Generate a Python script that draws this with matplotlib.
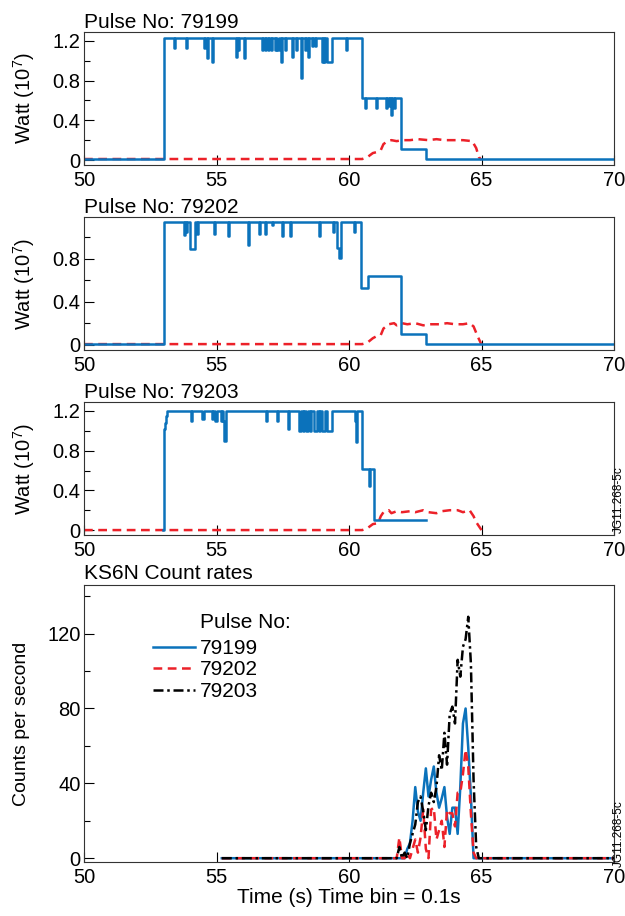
import numpy as np
import matplotlib
matplotlib.use('Agg')
import matplotlib.pyplot as plt
from matplotlib.ticker import MultipleLocator

plt.rcParams['font.family'] = ['Liberation Sans', 'DejaVu Sans']
plt.rcParams['mathtext.default'] = 'regular'

BLUE = '#0b72bb'
RED = '#ec2129'

pulses = ['79199', '79202', '79203']

# heating power traces (10^7 W), blue = step trace, red = dashed trace
p79199_blue_t = [50.0, 53.0, 53.38, 53.42, 53.86, 53.9, 54.52, 54.56, 54.64, 54.68, 54.82, 54.86,
                 55.72, 55.76, 55.82, 55.86, 56.05, 56.09, 56.7, 56.74, 56.82, 56.86, 56.94, 56.98,
                 57.06, 57.1, 57.2, 57.24, 57.3, 57.34, 57.44, 57.48, 57.58, 57.62, 57.84, 57.88,
                 58.0, 58.04, 58.17, 58.21, 58.33, 58.37, 58.44, 58.48, 58.6, 58.64, 58.72, 58.76,
                 58.97, 59.01, 59.06, 59.1, 59.16, 59.34, 59.87, 59.91, 60.5, 60.6, 60.64, 61.02,
                 61.06, 61.4, 61.44, 61.5, 61.54, 61.58, 61.62, 61.68, 61.72, 61.95, 62.9, 70.0]
p79199_blue_v = [0.01, 1.225, 1.13, 1.225, 1.13, 1.225, 1.13, 1.225, 1.03, 1.225, 0.99, 1.225,
                 1.04, 1.225, 1.11, 1.225, 1.03, 1.225, 1.11, 1.225, 1.11, 1.225, 1.11, 1.225,
                 1.11, 1.225, 1.11, 1.225, 1.11, 1.225, 0.99, 1.225, 1.11, 1.225, 1.04, 1.225,
                 1.11, 1.225, 0.83, 1.225, 1.11, 1.225, 1.04, 1.225, 1.15, 1.225, 1.15, 1.225,
                 0.99, 1.225, 0.99, 1.225, 0.99, 1.225, 1.11, 1.225, 0.625, 0.52, 0.625, 0.52,
                 0.625, 0.52, 0.625, 0.54, 0.625, 0.45, 0.625, 0.52, 0.625, 0.11, 0.01, 0.01]
p79199_red_t = [50.0, 60.5, 60.7, 60.9, 61.05, 61.2, 61.3, 61.45, 61.6, 61.8, 62.0, 62.3, 62.6,
                63.0, 63.3, 63.6, 64.0, 64.3, 64.65, 64.8, 64.9, 65.0]
p79199_red_v = [0.01, 0.01, 0.03, 0.07, 0.08, 0.1, 0.16, 0.19, 0.2, 0.19, 0.2, 0.2, 0.21,
                0.2, 0.21, 0.2, 0.2, 0.2, 0.19, 0.12, 0.03, 0.0]

p79202_blue_t = [50.0, 53.0, 53.78, 53.82, 53.86, 53.9, 54.0, 54.17, 54.26, 54.3, 54.9, 54.94,
                 55.42, 55.46, 56.18, 56.22, 56.6, 56.64, 56.83, 56.87, 57.1, 57.14, 57.47, 57.51,
                 57.78, 57.82, 58.88, 58.92, 59.38, 59.42, 59.54, 59.62, 59.68, 60.17, 60.21,
                 60.47, 60.71, 61.95, 62.92, 70.0]
p79202_blue_v = [0.005, 1.144, 1.02, 1.144, 1.05, 1.144, 0.89, 1.144, 1.03, 1.144, 1.03, 1.144,
                 1.01, 1.144, 0.925, 1.144, 1.03, 1.144, 1.03, 1.144, 1.12, 1.144, 1.01, 1.144,
                 1.01, 1.144, 1.01, 1.144, 1.05, 1.144, 0.9, 0.81, 1.144, 1.05, 1.144,
                 0.53, 0.64, 0.1, 0.005, 0.005]
p79202_red_t = [50.0, 60.5, 60.7, 60.9, 61.05, 61.2, 61.3, 61.5, 61.7, 61.8, 62.0, 62.2, 62.5,
                62.8, 63.1, 63.4, 63.7, 64.0, 64.3, 64.55, 64.7, 64.85, 65.0]
p79202_red_v = [0.005, 0.005, 0.02, 0.06, 0.08, 0.09, 0.15, 0.19, 0.2, 0.18, 0.2, 0.19, 0.2,
                0.18, 0.19, 0.19, 0.2, 0.19, 0.19, 0.2, 0.17, 0.08, 0.0]

p79203_blue_t = [52.98, 53.0, 53.04, 53.08, 53.12, 54.03, 54.07, 54.47, 54.51, 54.82, 54.86,
                 54.96, 55.0, 55.18, 55.22, 55.26, 55.3, 55.34, 56.88, 56.92, 57.28, 57.32,
                 57.68, 57.72, 58.1, 58.2, 58.26, 58.3, 58.36, 58.46, 58.54, 58.58, 58.68, 58.8,
                 58.86, 58.9, 58.98, 59.1, 59.16, 59.34, 60.22, 60.28, 60.32, 60.48, 60.74, 60.8,
                 60.96, 62.9]
p79203_blue_v = [0.0, 1.02, 1.08, 1.15, 1.2, 1.1, 1.2, 1.12, 1.2, 1.12, 1.2,
                 1.1, 1.2, 1.1, 1.2, 1.1, 0.9, 1.2, 1.1, 1.2, 1.1, 1.2,
                 1.02, 1.2, 1.0, 1.2, 1.0, 1.2, 1.0, 1.2, 1.0, 1.2, 1.0, 1.2,
                 1.0, 1.2, 1.0, 1.2, 1.0, 1.2, 1.1, 0.89, 1.2, 0.62, 0.44, 0.62,
                 0.1, 0.1]
p79203_red_t = [50.0, 60.5, 60.7, 60.9, 61.1, 61.2, 61.3, 61.5, 61.6, 61.8, 62.0, 62.3, 62.5,
                62.8, 63.0, 63.3, 63.5, 63.8, 64.1, 64.3, 64.55, 64.7, 64.8, 64.9, 65.0]
p79203_red_v = [0.0, 0.0, 0.02, 0.06, 0.07, 0.14, 0.18, 0.2, 0.17, 0.19, 0.18, 0.19, 0.18,
                0.2, 0.18, 0.17, 0.19, 0.2, 0.2, 0.18, 0.2, 0.14, 0.08, 0.04, 0.0]

# KS6N count rates, 0.1 s bins; non-zero window 61.8 .. 64.9 s
count_start, count_end = 55.2, 70.0
window_t = [61.8, 61.9, 62.0, 62.1, 62.2, 62.3, 62.4, 62.5, 62.6, 62.7, 62.8, 62.9, 63.0,
            63.1, 63.2, 63.3, 63.4, 63.5, 63.6, 63.7, 63.8, 63.9, 64.0, 64.1, 64.2, 64.3,
            64.4, 64.5, 64.6, 64.7, 64.8, 64.9]
counts_79199 = [0, 0, 0, 0, 5, 8, 20, 38, 25, 20, 35, 48, 33, 42, 49, 35, 27, 32, 38, 22,
                13, 27, 27, 13, 38, 72, 80, 59, 33, 0, 0, 0]
counts_79202 = [0, 11, 0, 0, 3, 0, 5, 10, 3, 11, 26, 5, 0, 26, 27, 10, 15, 20, 6, 26,
                24, 24, 17, 35, 35, 45, 58, 49, 24, 3, 0, 0]
counts_79203 = [0, 6, 0, 3, 0, 8, 13, 18, 30, 33, 25, 15, 28, 35, 30, 38, 55, 47, 67, 50,
                77, 81, 72, 106, 97, 113, 117, 129, 104, 42, 6, 0]

fig = plt.figure(figsize=(6.25, 9.16), dpi=100)
left, width = 0.1344, 0.848
axes = [fig.add_axes([left, 0.8199, width, 0.1452]),
        fig.add_axes([left, 0.6179, width, 0.1452]),
        fig.add_axes([left, 0.4159, width, 0.1452]),
        fig.add_axes([left, 0.0590, width, 0.3024])]

power = [(p79199_blue_t, p79199_blue_v, p79199_red_t, p79199_red_v, 1.29),
         (p79202_blue_t, p79202_blue_v, p79202_red_t, p79202_red_v, 1.19),
         (p79203_blue_t, p79203_blue_v, p79203_red_t, p79203_red_v, 1.29)]

for ax, pulse, (bt, bv, rt, rv, ytop) in zip(axes[:3], pulses, power):
    ax.plot(rt, rv, color=RED, lw=1.8, dashes=(3.5, 2.2))
    ax.plot(bt, bv, color=BLUE, lw=1.8, drawstyle='steps-post')
    ax.set_ylim(-0.05, ytop)
    ax.yaxis.set_minor_locator(MultipleLocator(0.2))
    ax.set_yticks([0, 0.4, 0.8, 1.2] if ytop > 1.2 else [0, 0.4, 0.8])
    ax.set_yticklabels(['0', '0.4', '0.8', '1.2'] if ytop > 1.2 else ['0', '0.4', '0.8'])
    ax.set_ylabel('Watt (10$^7$)', fontsize=14.5, labelpad=11)
    ax.set_title('Pulse No: ' + pulse, loc='left', fontsize=15, pad=3)

cax = axes[3]
count_axis = np.round(np.arange(count_start, count_end + 0.05, 0.1), 1)
for vals, color, style in [(counts_79199, BLUE, '-'),
                           (counts_79202, RED, (0, (3.5, 2.2))),
                           (counts_79203, 'black', (0, (4, 1.5, 1, 1.5)))]:
    full = np.zeros_like(count_axis)
    for t, c in zip(window_t, vals):
        full[np.isclose(count_axis, t)] = c
    cax.plot(count_axis, full, color=color, lw=1.8, linestyle=style)

cax.set_ylim(-2, 146)
cax.set_yticks([0, 40, 80, 120])
cax.yaxis.set_minor_locator(MultipleLocator(20))
cax.set_ylabel('Counts per second', fontsize=14, labelpad=12)
cax.set_xlabel('Time (s) Time bin = 0.1s', fontsize=15, labelpad=1)
cax.set_title('KS6N Count rates', loc='left', fontsize=15, pad=4)

cax.text(0.219, 0.866, 'Pulse No:', transform=cax.transAxes, fontsize=15, va='center')
leg = cax.legend(pulses, loc='upper left', bbox_to_anchor=(0.130, 0.805), frameon=False,
                 fontsize=15, handlelength=2.0, handletextpad=0.25, labelspacing=0.12,
                 borderpad=0, borderaxespad=0)

for ax in axes:
    ax.set_xlim(50, 70)
    ax.set_xticks([50, 55, 60, 65, 70])
    ax.tick_params(axis='both', which='major', direction='in', length=7, width=0.8,
                   labelsize=14.5, pad=2.5)
    ax.tick_params(axis='y', which='minor', direction='in', length=4.5, width=0.8)
    ax.tick_params(axis='x', which='major', pad=4)
    for s in ax.spines.values():
        s.set_linewidth(0.8)
        s.set_color('#333333')

fig.text(0.999, 0.418, 'JG11.268-5c', rotation=90, fontsize=8.5, ha='right', va='bottom')
fig.text(0.999, 0.054, 'JG11.268-5c', rotation=90, fontsize=8.5, ha='right', va='bottom')

fig.savefig('out.png', dpi=100)
